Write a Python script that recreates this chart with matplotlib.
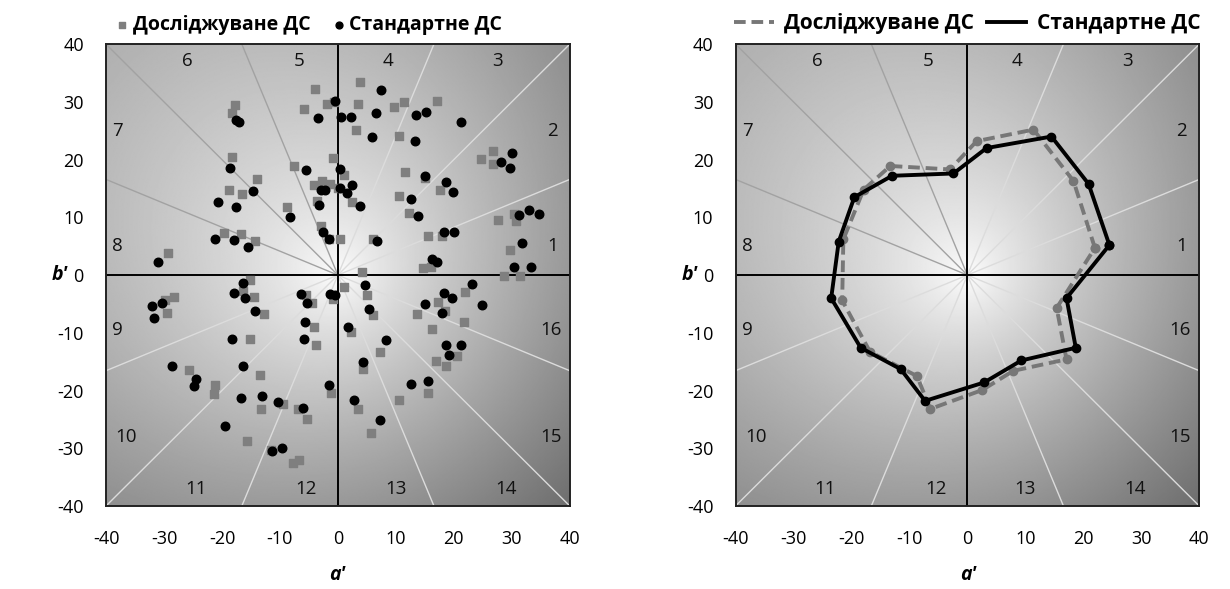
import matplotlib
matplotlib.use('Agg')
import matplotlib.pyplot as plt
import numpy as np

plt.rcParams['font.family'] = ['Open Sans', 'DejaVu Sans']
plt.rcParams['axes.unicode_minus'] = False

# scatter data, left panel (a', b')
test_a = [-3.9, -17.8, -18.3, -5.8, -1.8, -0.9, -18.3, -7.5, -14.0, -18.8, -16.6, -4.1, -2.8, -1.3, -3.6, -8.7, -2.9, -1.5, -19.7, -16.8, -14.3, -29.3,
          3.8, 3.5, 9.7, 11.4, 17.1, 3.2, 10.5, -0.6, 1.1, 0.1, 2.4, 11.6, 15.0, 17.6, 10.6, 12.3, 24.7, 26.8, 26.8, 30.3, 30.8, 27.7, 29.7, 28.7, 31.4, 6.1, 15.6, 18.0, 14.6, 16.0, 4.1, 0.4,
          -15.1, -28.2, -29.9, -29.5, -16.4, -14.4, -12.7, -5.5, -4.5, -0.8, -4.2, -3.7, -15.1, -25.6, -21.2, -21.3, -13.4, -13.2, -9.5, -6.8, -5.3, -1.2, -15.6, -7.7, -6.7, -11.6,
          5.0, 6.0, 2.2, 1.1, 17.2, 21.9, 13.7, 18.5, 21.8, 16.2, 20.5, 16.9, 18.6, 7.2, 4.3, 15.6, 10.5, 3.4, 5.7]
test_b = [32.3, 29.4, 28.0, 28.7, 29.7, 20.3, 20.4, 18.9, 16.6, 14.8, 14.1, 15.6, 16.3, 15.7, 12.8, 11.8, 8.5, 6.3, 7.3, 7.2, 5.9, 3.9,
          33.4, 29.7, 29.1, 29.9, 30.2, 25.1, 24.1, 30.0, 17.4, 15.0, 12.6, 17.8, 16.8, 14.7, 13.7, 10.8, 20.1, 21.5, 19.2, 10.6, 9.4, 9.5, 4.3, -0.1, -0.1, 6.2, 6.8, 6.8, 1.3, 1.4, 0.6, 6.2,
          -0.9, -3.8, -4.3, -6.5, -2.7, -3.8, -6.8, -3.5, -4.9, -4.2, -9.0, -12.1, -11.0, -16.4, -19.0, -20.6, -17.4, -23.2, -22.4, -23.2, -25.0, -20.4, -28.7, -32.5, -32.0, -30.3,
          -3.5, -6.9, -9.8, -2.0, -4.6, -2.9, -6.8, -6.3, -8.2, -9.4, -14.0, -14.9, -15.7, -13.4, -16.3, -20.5, -21.6, -23.2, -27.4]

std_a = [-3.5, -0.5, -17.6, -17.0, -5.5, -18.6, -14.7, -20.6, -17.6, -2.9, -2.2, -3.3, -8.2, -2.6, -1.5, -21.2, -18.0, -15.5, -31.0,
         7.5, 0.6, 2.2, 6.6, 13.4, 15.2, 21.2, 5.9, 13.3, 0.4, 2.4, 1.5, 3.8, 15.1, 18.6, 19.8, 12.6, 13.8, 30.1, 28.2, 29.7, 33.0, 34.7, 31.3, 31.7, 30.3, 33.4, 6.7, 18.3, 20.0, 16.2, 17.1, 0.4,
         -16.3, -18.0, -16.0, -14.3, -32.1, -30.4, -31.7, -6.4, -5.3, -1.4, -5.6, -5.9, -18.3, -28.6, -24.5, -24.8, -16.3, -16.7, -13.1, -10.3, -6.1, -1.6, -19.4, -11.3, -9.7,
         4.7, 5.4, 1.8, 18.3, 19.7, 23.1, 24.8, 15.1, 18.0, 8.3, 18.7, 21.2, 19.2, 4.3, 12.6, 15.6, 2.8, 7.3, -0.5]
std_b = [27.2, 30.1, 26.8, 26.5, 18.2, 18.6, 14.6, 12.6, 11.8, 14.7, 14.8, 12.1, 10.0, 7.5, 6.2, 6.3, 6.1, 4.8, 2.2,
         32.1, 27.4, 27.4, 28.0, 27.8, 28.3, 26.6, 23.9, 23.2, 18.3, 15.6, 14.2, 11.9, 17.2, 16.1, 14.4, 13.1, 10.3, 21.2, 19.6, 18.5, 11.2, 10.6, 10.4, 5.6, 1.4, 1.4, 5.9, 7.5, 7.4, 2.7, 2.2, 15.0,
         -1.3, -3.1, -3.9, -6.2, -5.4, -4.9, -7.5, -3.2, -4.9, -3.2, -8.2, -11.0, -11.0, -15.7, -18.0, -19.3, -15.7, -21.3, -20.9, -22.0, -23.0, -19.0, -26.1, -30.4, -29.9,
         -1.7, -5.9, -9.0, -3.1, -3.9, -1.6, -5.1, -5.0, -6.5, -11.2, -12.1, -12.1, -13.8, -15.0, -18.9, -18.3, -21.6, -25.1, -3.5]

# mean per sector, right panel (sectors 1..16)
test_poly_a = [22.0, 18.3, 11.4, 1.6, -3.0, -13.3, -17.9, -21.4, -21.6, -16.8, -8.7, -6.4, 2.6, 7.9, 17.1, 15.4]
test_poly_b = [4.7, 16.3, 25.2, 23.2, 18.3, 18.9, 14.8, 6.2, -4.4, -13.3, -17.5, -23.2, -19.9, -16.6, -14.6, -5.7]
std_poly_a = [24.5, 20.9, 14.5, 3.3, -2.4, -13.0, -19.5, -22.2, -23.5, -18.4, -11.5, -7.3, 2.9, 9.3, 18.7, 17.1]
std_poly_b = [5.2, 15.8, 24.0, 22.0, 17.6, 17.2, 13.5, 5.8, -4.0, -12.6, -16.3, -21.8, -18.6, -14.8, -12.6, -4.0]

sector_labels = [str(i) for i in range(1, 17)]
label_x = [37, 37, 27.6, 8.6, -6.7, -25.9, -38, -38, -38, -36.5, -24.5, -5.5, 10, 29, 36.7, 36.7]
label_y = [5, 25, 37, 37, 37, 37, 25, 5, -9.5, -28, -37, -37, -37, -37, -28, -9.5]

ticks = [-40, -30, -20, -10, 0, 10, 20, 30, 40]
leg_test = 'Досліджуване ДС'
leg_std = 'Стандартне ДС'


def draw_base(ax):
    # grey radial background, white in the middle, darker to bottom right
    g = np.linspace(-40, 40, 400)
    X, Y = np.meshgrid(g, g)
    R = np.sqrt(X**2 + Y**2)
    V = 1 - 0.44*(R/56.6)**0.75 - 0.0016*(X - Y)
    V = np.clip(V, 0, 1)
    ax.imshow(V, extent=[-40, 40, -40, 40], origin='lower', cmap='gray',
              vmin=0, vmax=1, aspect='auto', zorder=0, interpolation='bilinear')

    # sector lines every 22.5 deg
    for k in range(16):
        if k % 4 == 0:
            continue
        ang = np.radians(22.5*k)
        col = '#a2a2a2' if 4 < k < 8 else '#dcdcdc'
        ax.plot([0, 60*np.cos(ang)], [0, 60*np.sin(ang)], color=col, lw=1.0, zorder=1)
    ax.axhline(0, color='black', lw=1.4, zorder=2)
    ax.axvline(0, color='black', lw=1.4, zorder=2)

    for t, x, y in zip(sector_labels, label_x, label_y):
        ax.text(x, y, t, fontsize=13.5, ha='center', va='center', color='#111111', zorder=3)

    ax.set_xlim(-40, 40)
    ax.set_ylim(-40, 40)
    ax.set_xticks(ticks)
    ax.set_yticks(ticks)
    ax.tick_params(axis='both', length=0, labelsize=13)
    ax.tick_params(axis='x', pad=17)
    ax.tick_params(axis='y', pad=16)
    for s in ax.spines.values():
        s.set_linewidth(1.4)
        s.set_color('#222222')


fig = plt.figure(figsize=(12.3, 5.89), dpi=100)
ax1 = fig.add_axes([0.0862, 0.141, 0.377, 0.784])
ax2 = fig.add_axes([0.598, 0.141, 0.377, 0.784])

draw_base(ax1)
ax1.scatter(test_a, test_b, marker='s', s=26, color='#7f7f7f', label=leg_test, zorder=4)
ax1.scatter(std_a, std_b, marker='o', s=38, color='black', label=leg_std, zorder=5)
ax1.legend(loc='lower center', bbox_to_anchor=(0.435, 0.995), ncol=2, frameon=False,
           prop={'size': 14, 'weight': 'bold'}, handletextpad=0.1, columnspacing=1.0,
           handlelength=0.9, markerscale=0.8, borderaxespad=0.2)

draw_base(ax2)
ax2.plot(test_poly_a + test_poly_a[:1], test_poly_b + test_poly_b[:1], color='#777777', lw=2.8,
         ls=(0, (3, 1.5)), marker='o', ms=6, label=leg_test, zorder=4)
ax2.plot(std_poly_a + std_poly_a[:1], std_poly_b + std_poly_b[:1], color='black', lw=2.8,
         marker='o', ms=6, label=leg_std, zorder=5)
ax2.legend(loc='lower center', bbox_to_anchor=(0.5, 0.995), ncol=2, frameon=False,
           prop={'size': 15, 'weight': 'bold'}, handletextpad=0.5, columnspacing=0.6,
           handlelength=1.9, borderaxespad=0.2)
for ln in ax2.get_legend().get_lines():
    ln.set_marker('')

# axis names
fig.text(0.274, 0.024, "a'", fontsize=14, weight='bold', style='italic', ha='center', va='center')
fig.text(0.0488, 0.533, "b'", fontsize=14, weight='bold', style='italic', ha='center', va='center')
fig.text(0.787, 0.024, "a'", fontsize=14, weight='bold', style='italic', ha='center', va='center')
fig.text(0.561, 0.533, "b'", fontsize=14, weight='bold', style='italic', ha='center', va='center')

fig.savefig('out.png', dpi=100)
